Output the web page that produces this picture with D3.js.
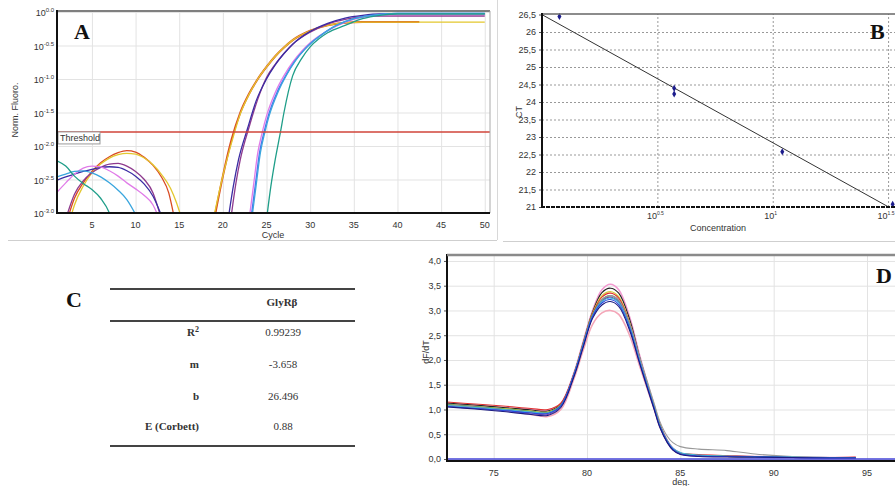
<!DOCTYPE html>
<meta charset="utf-8">
<style>
  body { margin: 0; background: #fff; }
  svg { display: block; font-family: "Liberation Sans", Arial, sans-serif; }
  .lbl { fill: #333; font-size: 9px; }
  .grid line { stroke: #e3e3e3; stroke-width: 1px; }
  .grid path { display: none; }
  .dgrid line { stroke: #999; stroke-dasharray: 2,2; }
  .dgrid path { display: none; }
  .letter { font-family: "Liberation Serif", serif; font-weight: bold; font-size: 22px; fill: #111; }
  .tbl { font-family: "Liberation Serif", serif; font-size: 11px; fill: #333; }
</style>
<body>
<svg id="fig" width="895" height="486"></svg>
<script src="https://d3js.org/d3.v7.min.js"></script>
<script>
// ---------- A: amplification plot (cycle, log10 normalised fluorescence)
var cycleTicksA = [5, 10, 15, 20, 25, 30, 35, 40, 45, 50];
var logTicksA = [0, -0.5, -1, -1.5, -2, -2.5, -3];
var thresholdA = -1.79;
var colorsA = ["#d94a22", "#e3c72e", "#8e3a8e", "#3b2ca3", "#e07ce8", "#4a6cf0", "#3aa6de", "#1f9e89"];
var earlyA = [
  [[2.3,-3.05],[3,-2.78],[4,-2.55],[5,-2.38],[6,-2.25],[7,-2.16],[8,-2.1],[9,-2.07],[10,-2.09],[11,-2.17],[12,-2.29],[13,-2.47],[13.8,-2.7],[14.4,-3.05]],
  [[2.6,-3.05],[3,-2.88],[4,-2.6],[5,-2.4],[6,-2.27],[7,-2.18],[8,-2.13],[9,-2.11],[10,-2.12],[11,-2.18],[12,-2.28],[13,-2.43],[14,-2.63],[14.7,-2.85],[15.2,-3.05]],
  [[2.1,-3.05],[3,-2.72],[4,-2.52],[5,-2.4],[6,-2.32],[7,-2.27],[8,-2.26],[9,-2.3],[10,-2.38],[11,-2.5],[12,-2.7],[12.8,-3.02]],
  [[1,-2.51],[2,-2.46],[3,-2.42],[4,-2.38],[5,-2.35],[6,-2.32],[7,-2.31],[8,-2.32],[9,-2.37],[10,-2.45],[11,-2.57],[12,-2.75],[13,-3.05]],
  [[1,-2.69],[2,-2.55],[3,-2.42],[4,-2.33],[5,-2.3],[6,-2.31],[7,-2.37],[8,-2.45],[9,-2.55],[10,-2.64],[11,-2.74],[12,-2.88],[12.6,-3.05]],
  [],
  [[1,-2.46],[2,-2.42],[3,-2.38],[4,-2.37],[5,-2.4],[6,-2.46],[7,-2.55],[8,-2.66],[9,-2.8],[10,-3.02]],
  [[1,-2.22],[2,-2.3],[3,-2.45],[4,-2.56],[5,-2.65],[6,-2.78],[7,-3.0],[7.5,-3.2]]
];
var ampA = [
  [[19,-3.1],[20,-2.45],[21,-1.9],[22,-1.5],[23,-1.22],[24,-1.0],[25,-0.82],[26,-0.66],[27,-0.53],[28,-0.42],[30,-0.28],[32,-0.2],[34,-0.16],[36,-0.15],[42.5,-0.15]],
  [[18.9,-3.1],[19.9,-2.5],[21,-1.95],[22,-1.52],[23,-1.23],[24,-1.0],[25,-0.82],[26,-0.66],[27,-0.53],[28,-0.42],[30,-0.28],[32,-0.2],[34,-0.16],[36,-0.15],[50,-0.15]],
  [[20.9,-3.1],[21.5,-2.55],[22,-2.2],[23,-1.72],[24,-1.3],[25,-0.98],[26,-0.78],[27,-0.62],[28,-0.48],[30,-0.3],[32,-0.18],[34,-0.11],[36,-0.07],[38,-0.06],[50,-0.06]],
  [[20.6,-3.1],[21.2,-2.6],[21.8,-2.2],[22.8,-1.75],[23.8,-1.33],[25,-1.0],[26,-0.79],[27,-0.62],[28,-0.48],[30,-0.29],[32,-0.17],[34,-0.09],[36,-0.05],[38,-0.03],[50,-0.03]],
  [[23,-3.1],[23.5,-2.6],[24,-2.1],[24.5,-1.8],[25,-1.55],[26,-1.2],[27,-0.95],[28,-0.75],[29,-0.59],[30,-0.46],[31,-0.36],[33,-0.21],[35,-0.11],[37,-0.06],[40,-0.04],[50,-0.04]],
  [[23.2,-3.1],[23.7,-2.6],[24.2,-2.1],[24.7,-1.8],[25.2,-1.55],[26.2,-1.2],[27.2,-0.95],[28.2,-0.74],[29.2,-0.58],[30.2,-0.45],[31.2,-0.35],[33,-0.2],[35,-0.1],[37,-0.05],[40,-0.02],[50,-0.02]],
  [[23.3,-3.1],[23.8,-2.6],[24.3,-2.1],[24.8,-1.8],[25.3,-1.55],[26.3,-1.2],[27.3,-0.94],[28.3,-0.73],[29.3,-0.57],[30.3,-0.44],[31.3,-0.34],[33,-0.2],[35,-0.1],[37,-0.05],[40,-0.02],[50,-0.02]],
  [[25,-3.1],[25.5,-2.6],[26,-2.2],[26.6,-1.79],[27,-1.5],[28,-0.95],[29,-0.7],[30,-0.52],[31,-0.4],[32,-0.31],[34,-0.2],[36,-0.1],[38,-0.05],[40,-0.03],[50,-0.03]]
];

// ---------- B: standard curve
var ctTicksB = [21, 21.5, 22, 22.5, 23, 23.5, 24, 24.5, 25, 25.5, 26, 26.5];
var concTicksB = [0.5, 1, 1.5];           // log10 concentration
var concB = [1.19, 3.74, 3.74, 11.0, 33.1];
var ctB = [26.44, 24.39, 24.23, 22.58, 21.08];

// ---------- C: table
var tableHeader = "GlyRβ";
var tableLabels = ["R", "m", "b", "E (Corbett)"];
var tableValues = ["0.99239", "-3.658", "26.496", "0.88"];
var slopeM = -3.658, interceptB = 26.496;

// ---------- D: melt curves
var tempD = [72.5,74,75.5,77,77.9,78.6,79.3,79.8,80.3,80.8,81.25,81.7,82.3,82.8,83.2,83.6,83.9,84.3,84.6,85,86,87.5,89,91,93,94.4];
var dfTicksD = [0, 0.5, 1, 1.5, 2, 2.5, 3, 3.5, 4];
var degTicksD = [75, 80, 85, 90, 95];
var colorsD = ["#f29ad0", "#f4a6b8", "#222222", "#d6cf3c", "#e03030", "#3a9a4a", "#999999", "#7a3aa0", "#40b8d8", "#2a4ae0", "#1a1a80"];
var meltD = [
  [1.12,1.08,1.04,1.0,0.98,1.12,1.74,2.38,3.0,3.42,3.53,3.42,2.85,2.12,1.58,1.08,0.72,0.38,0.22,0.12,0.07,0.06,0.05,0.04,0.03,0.03],
  [1.08,1.03,0.98,0.9,0.86,1.0,1.62,2.2,2.72,2.95,3.0,2.92,2.48,1.9,1.45,1.0,0.65,0.34,0.19,0.1,0.06,0.05,0.04,0.03,0.02,0.02],
  [1.13,1.09,1.04,0.99,0.97,1.11,1.72,2.35,2.97,3.36,3.45,3.35,2.8,2.08,1.56,1.06,0.7,0.37,0.21,0.11,0.07,0.05,0.04,0.03,0.02,0.02],
  [1.1,1.06,1.02,0.97,0.95,1.1,1.71,2.34,2.95,3.3,3.38,3.28,2.74,2.05,1.54,1.05,0.69,0.36,0.21,0.11,0.07,0.05,0.04,0.03,0.02,0.02],
  [1.15,1.11,1.07,1.02,1.0,1.13,1.72,2.33,2.93,3.27,3.35,3.25,2.72,2.04,1.53,1.04,0.68,0.36,0.21,0.12,0.09,0.07,0.05,0.04,0.03,0.04],
  [1.1,1.06,1.01,0.96,0.94,1.09,1.7,2.32,2.91,3.22,3.3,3.2,2.68,2.02,1.52,1.04,0.68,0.36,0.2,0.11,0.07,0.05,0.04,0.03,0.02,0.02],
  [1.09,1.05,1.0,0.95,0.93,1.08,1.68,2.28,2.88,3.21,3.3,3.21,2.72,2.08,1.6,1.12,0.76,0.46,0.33,0.25,0.2,0.17,0.1,0.05,0.03,0.02],
  [1.07,1.03,0.99,0.93,0.9,1.06,1.69,2.3,2.89,3.19,3.27,3.17,2.66,2.0,1.5,1.02,0.66,0.34,0.19,0.1,0.06,0.05,0.04,0.03,0.02,0.02],
  [1.08,1.04,1.0,0.95,0.93,1.08,1.71,2.32,2.9,3.18,3.25,3.16,2.66,2.01,1.52,1.04,0.68,0.37,0.22,0.13,0.08,0.06,0.05,0.04,0.03,0.03],
  [1.06,1.02,0.98,0.93,0.92,1.08,1.7,2.3,2.88,3.15,3.22,3.12,2.62,1.98,1.5,1.02,0.66,0.35,0.2,0.1,0.06,0.05,0.04,0.03,0.02,0.02],
  [1.05,1.01,0.96,0.9,0.88,1.04,1.66,2.26,2.84,3.11,3.18,3.08,2.58,1.95,1.47,1.0,0.64,0.33,0.18,0.09,0.05,0.04,0.04,0.03,0.02,0.02]
];

var svg = d3.select("#fig");
var comma = function(v) { return String(v).replace(".", ","); };
var supFmt = function(v) { return v === 0 ? "0.0" : d3.format(".1f")(v).replace("−", "-"); };

// panel frames (light grey)
svg.append("line").attr("x1", 8).attr("x2", 497).attr("y1", 240.5).attr("y2", 240.5).attr("stroke", "#cfcfcf");
svg.append("line").attr("x1", 497.5).attr("x2", 497.5).attr("y1", 0).attr("y2", 240).attr("stroke", "#d8d8d8");
svg.append("line").attr("x1", 503).attr("x2", 895).attr("y1", 241.5).attr("y2", 241.5).attr("stroke", "#cfcfcf");

// ================= Panel A
var xA = d3.scaleLinear().domain([1, 50.6]).range([57, 490]);
var yA = d3.scaleLinear().domain([0, -3]).range([12, 213]);
var gA = svg.append("g");
gA.append("g").attr("class", "grid").attr("transform", "translate(0,213)")
  .call(d3.axisBottom(xA).tickValues(cycleTicksA).tickSize(-202).tickFormat(""));
gA.append("g").attr("class", "grid").attr("transform", "translate(57,0)")
  .call(d3.axisLeft(yA).tickValues(logTicksA).tickSize(-433).tickFormat(""));
gA.append("clipPath").attr("id", "clipA").append("rect").attr("x", 57).attr("y", 11).attr("width", 433).attr("height", 202);

var lineA = d3.line().x(function(d) { return xA(d[0]); }).y(function(d) { return yA(d[1]); }).curve(d3.curveMonotoneX);
var curvesA = gA.append("g").attr("clip-path", "url(#clipA)");
earlyA.forEach(function(s, i) {
  if (s.length) curvesA.append("path").attr("d", lineA(s)).attr("fill", "none").attr("stroke", colorsA[i]).attr("stroke-width", 1.3);
});
ampA.forEach(function(s, i) {
  curvesA.append("path").attr("d", lineA(s)).attr("fill", "none").attr("stroke", colorsA[i]).attr("stroke-width", i === 0 ? 2 : 1.3);
});
curvesA.append("line").attr("x1", 57).attr("x2", 490).attr("y1", yA(thresholdA)).attr("y2", yA(thresholdA))
  .attr("stroke", "#d0453a").attr("stroke-width", 1.5);
gA.append("rect").attr("x", 58).attr("y", yA(thresholdA)).attr("width", 42).attr("height", 12)
  .attr("fill", "#fff").attr("stroke", "#999");
gA.append("text").attr("class", "lbl").attr("x", 60).attr("y", yA(thresholdA) + 9.5).text("Threshold");

// frame A
gA.append("line").attr("x1", 57).attr("x2", 490).attr("y1", 11).attr("y2", 11).attr("stroke", "#555").attr("stroke-width", 1.5);
gA.append("line").attr("x1", 490).attr("x2", 490).attr("y1", 11).attr("y2", 213).attr("stroke", "#aaa");
gA.append("line").attr("x1", 57).attr("x2", 57).attr("y1", 10).attr("y2", 214).attr("stroke", "#111").attr("stroke-width", 2);
gA.append("line").attr("x1", 56).attr("x2", 490).attr("y1", 213).attr("y2", 213).attr("stroke", "#111").attr("stroke-width", 2);

cycleTicksA.forEach(function(c) {
  gA.append("text").attr("class", "lbl").attr("x", xA(c)).attr("y", 228).attr("text-anchor", "middle").text(c);
});
logTicksA.forEach(function(v) {
  var t = gA.append("text").attr("class", "lbl").attr("x", 54).attr("y", yA(v) + 4).attr("text-anchor", "end");
  t.append("tspan").text("10");
  t.append("tspan").attr("dy", -4).attr("font-size", "6px").text(supFmt(v));
});
gA.append("text").attr("class", "lbl").attr("transform", "translate(18,110) rotate(-90)").attr("text-anchor", "middle").text("Norm. Fluoro.");
gA.append("text").attr("class", "lbl").attr("x", 273).attr("y", 238).attr("text-anchor", "middle").text("Cycle");
gA.append("text").attr("class", "letter").attr("x", 74).attr("y", 39).text("A");

// ================= Panel B
var xB = d3.scaleLog().domain([1, Math.pow(10, 1.53)]).range([542, 895]);
var yB = d3.scaleLinear().domain([21, 26.5]).range([207, 14.5]);
var gB = svg.append("g");
gB.append("g").attr("class", "dgrid").attr("transform", "translate(542,0)")
  .call(d3.axisLeft(yB).tickValues(ctTicksB.slice(1, -1)).tickSize(-353).tickFormat(""));
gB.append("g").attr("class", "dgrid").attr("transform", "translate(0,207)")
  .call(d3.axisBottom(xB).tickValues(concTicksB.map(function(p) { return Math.pow(10, p); })).tickSize(-193).tickFormat(""));
var yAxB = gB.append("g").attr("transform", "translate(542,0)")
  .call(d3.axisLeft(yB).tickValues(ctTicksB).tickSize(3).tickFormat(comma));
yAxB.select(".domain").remove();
yAxB.selectAll("text").attr("class", "lbl").attr("font-size", "8px").attr("fill", "#333");
yAxB.selectAll("line").attr("stroke", "#555");

gB.append("clipPath").attr("id", "clipB").append("rect").attr("x", 542).attr("y", 13).attr("width", 353).attr("height", 195);
var fitLine = d3.line().x(function(c) { return xB(c); }).y(function(c) { return yB(slopeM * Math.log10(c) + interceptB); });
gB.append("path").attr("clip-path", "url(#clipB)").attr("d", fitLine([1, Math.pow(10, 1.5)]))
  .attr("fill", "none").attr("stroke", "#333").attr("stroke-width", 1);
gB.selectAll(".pt").data(concB).enter().append("path")
  .attr("d", d3.symbol().type(d3.symbolDiamond).size(14))
  .attr("transform", function(c, i) { return "translate(" + xB(c) + "," + yB(ctB[i]) + ")"; })
  .attr("fill", "#1c1c8c");

gB.append("line").attr("x1", 542).attr("x2", 895).attr("y1", 14).attr("y2", 14).attr("stroke", "#666").attr("stroke-width", 1.5);
gB.append("line").attr("x1", 542).attr("x2", 542).attr("y1", 13).attr("y2", 208).attr("stroke", "#111").attr("stroke-width", 2);
gB.append("line").attr("x1", 541).attr("x2", 895).attr("y1", 207).attr("y2", 207).attr("stroke", "#111").attr("stroke-width", 2).attr("stroke-dasharray", "4,1");
concTicksB.forEach(function(p) {
  var t = gB.append("text").attr("class", "lbl").attr("font-size", "8px").attr("x", xB(Math.pow(10, p)) - 2).attr("y", 219).attr("text-anchor", "middle");
  t.append("tspan").text("10");
  t.append("tspan").attr("dy", -4).attr("font-size", "5px").text(p === 1 ? "1" : String(p));
});
gB.append("text").attr("class", "lbl").attr("font-size", "8px").attr("transform", "translate(522,112) rotate(-90)").attr("text-anchor", "middle").text("CT");
gB.append("text").attr("class", "lbl").attr("font-size", "8px").attr("x", 718).attr("y", 231).attr("text-anchor", "middle").text("Concentration");
gB.append("text").attr("class", "letter").attr("x", 870).attr("y", 39).text("B");

// ================= Panel C
var gC = svg.append("g");
gC.append("text").attr("class", "letter").attr("x", 66).attr("y", 307).text("C");
[289, 321, 446].forEach(function(y) {
  gC.append("line").attr("x1", 110).attr("x2", 355).attr("y1", y).attr("y2", y).attr("stroke", "#444").attr("stroke-width", 2);
});
gC.append("text").attr("class", "tbl").attr("font-weight", "bold").attr("x", 282).attr("y", 306).attr("text-anchor", "middle").text(tableHeader);
var rowY = [336, 368, 400, 430];
tableLabels.forEach(function(l, i) {
  var t = gC.append("text").attr("class", "tbl").attr("font-weight", "bold").attr("x", 199).attr("y", rowY[i]).attr("text-anchor", "end");
  t.append("tspan").text(l);
  if (i === 0) t.append("tspan").attr("dy", -4).attr("font-size", "8px").text("2");
  gC.append("text").attr("class", "tbl").attr("x", 283).attr("y", rowY[i]).attr("text-anchor", "middle").text(tableValues[i]);
});

// ================= Panel D
var xD = d3.scaleLinear().domain([72.5, 96.5]).range([447, 895]);
var yD = d3.scaleLinear().domain([0, 4.12]).range([459, 255]);
var gD = svg.append("g");
gD.append("g").attr("class", "grid").attr("transform", "translate(0,459)")
  .call(d3.axisBottom(xD).tickValues(degTicksD).tickSize(-204).tickFormat(""));
gD.append("g").attr("class", "grid").attr("transform", "translate(447,0)")
  .call(d3.axisLeft(yD).tickValues(dfTicksD).tickSize(-448).tickFormat(""));
var yAxD = gD.append("g").attr("transform", "translate(447,0)")
  .call(d3.axisLeft(yD).tickValues(dfTicksD).tickSize(3).tickFormat(function(v) { return comma(d3.format(".1f")(v)); }));
yAxD.select(".domain").remove();
yAxD.selectAll("text").attr("class", "lbl").attr("font-size", "8px").attr("fill", "#333");
yAxD.selectAll("line").attr("stroke", "#555");
degTicksD.forEach(function(d) {
  gD.append("text").attr("class", "lbl").attr("font-size", "8px").attr("x", xD(d)).attr("y", 476).attr("text-anchor", "middle").text(d);
});

gD.append("clipPath").attr("id", "clipD").append("rect").attr("x", 447).attr("y", 255).attr("width", 448).attr("height", 206);
var lineD = d3.line().x(function(d, i) { return xD(tempD[i]); }).y(function(d) { return yD(d); }).curve(d3.curveCatmullRom.alpha(0.5));
var curvesD = gD.append("g").attr("clip-path", "url(#clipD)");
meltD.forEach(function(s, i) {
  curvesD.append("path").attr("d", lineD(s)).attr("fill", "none").attr("stroke", colorsD[i])
    .attr("stroke-width", i < 2 ? 1.6 : 1.1);
});
gD.append("line").attr("x1", 447).attr("x2", 895).attr("y1", yD(0)).attr("y2", yD(0)).attr("stroke", "#4646d8").attr("stroke-width", 1.5);
gD.append("line").attr("x1", 446).attr("x2", 895).attr("y1", 461).attr("y2", 461).attr("stroke", "#111").attr("stroke-width", 2);
gD.append("line").attr("x1", 447).attr("x2", 447).attr("y1", 254).attr("y2", 462).attr("stroke", "#111").attr("stroke-width", 2);
gD.append("line").attr("x1", 447).attr("x2", 895).attr("y1", 255).attr("y2", 255).attr("stroke", "#8a8a8a").attr("stroke-width", 2.5);
gD.append("text").attr("class", "lbl").attr("font-size", "8px").attr("transform", "translate(429,352) rotate(-90)").attr("text-anchor", "middle").text("dF/dT");
gD.append("text").attr("class", "lbl").attr("font-size", "8px").attr("x", 681).attr("y", 485).attr("text-anchor", "middle").text("deg.");
gD.append("text").attr("class", "letter").attr("x", 876).attr("y", 283).text("D");
</script>
</body>
